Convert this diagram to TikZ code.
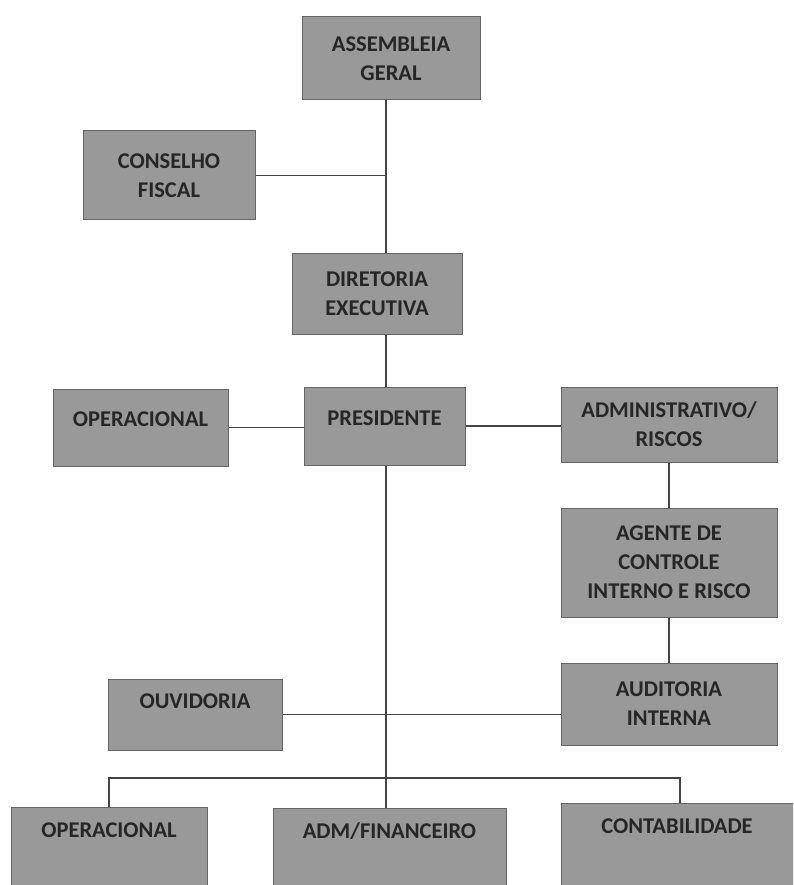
\documentclass[tikz,border=0pt]{standalone}
\usepackage{fontspec}
\setmainfont{Carlito}
\usepackage{tikz}
\usetikzlibrary{positioning}
\definecolor{orgcinza}{HTML}{999999}
\definecolor{orgborda}{HTML}{656565}
\definecolor{orgtexto}{HTML}{262626}
\definecolor{orglinha}{HTML}{454545}

\tikzset{
  caixa/.style={draw=orgborda, fill=orgcinza, text=orgtexto, line width=1pt,
    align=center, inner sep=0pt, font=\fontsize{22.5}{29}\selectfont\bfseries},
  caixabase/.style={caixa, anchor=north, text height=15pt, text depth=90pt,
    inner ysep=15pt},
  liga/.style={orglinha, line width=1.4pt}
}

\begin{document}
\begin{tikzpicture}[x=1pt, y=-1pt]
    \useasboundingbox (0,0) rectangle (793,885);
    \clip (0,0) rectangle (793,885);
    \coordinate (tronco) at (386,0);
    % caixas
    \node[caixa, minimum width=178, minimum height=83] (asm) at (391,58.5) {ASSEMBLEIA\\GERAL};
    \node[caixa, minimum width=172, minimum height=89] (cf) at (169,175.5) {CONSELHO\\FISCAL};
    \node[caixa, minimum width=170, minimum height=81] (dir) at (377,293.5) {DIRETORIA\\EXECUTIVA};
    \node[caixa, minimum width=175, minimum height=77, text depth=17pt] (op1) at (140.5,427.5) {OPERACIONAL};
    \node[caixa, minimum width=161, minimum height=78, text depth=16pt] (pres) at (384.5,426) {PRESIDENTE};
    \node[caixa, minimum width=216, minimum height=75] (adm) at (669,424.5) {ADMINISTRATIVO/\\RISCOS};
    \node[caixa, minimum width=216, minimum height=109] (ag) at (669,562.5) {AGENTE DE\\CONTROLE\\INTERNO E RISCO};
    \node[caixa, minimum width=216, minimum height=82] (aud) at (669,704) {AUDITORIA\\INTERNA};
    \node[caixa, minimum width=174, minimum height=71, text depth=27pt] (ouv) at (195,714.5) {OUVIDORIA};
    % linha de baixo
    \node[caixabase, minimum width=196] (op2) at (109,807) {OPERACIONAL};
    \node[caixabase, minimum width=233] (fin) at (389.5,808) {ADM/FINANCEIRO};
    \node[caixabase, minimum width=232] (cont) at (677,803) {CONTABILIDADE};
    % ligacoes
    \draw[liga] (tronco |- asm.south) -- (tronco |- dir.north);
    \draw[liga] (cf.east) -- (tronco |- cf.east);
    \draw[liga] (tronco |- dir.south) -- (tronco |- pres.north);
    \draw[liga] (op1.east) -- (op1.east -| pres.west);
    \draw[liga] (pres.east) -- (pres.east -| adm.west);
    \draw[liga] (adm.south) -- (ag.north);
    \draw[liga] (ag.south) -- (aud.north);
    \draw[liga] (tronco |- pres.south) -- (tronco |- fin.north);
    \draw[liga] (ouv.east) -- (ouv.east -| aud.west);
    \coordinate (barra) at (0,778);
    \draw[liga] (op2.north) -- (op2.north |- barra) -- (680,778) -- (680,803);
\end{tikzpicture}
\end{document}
